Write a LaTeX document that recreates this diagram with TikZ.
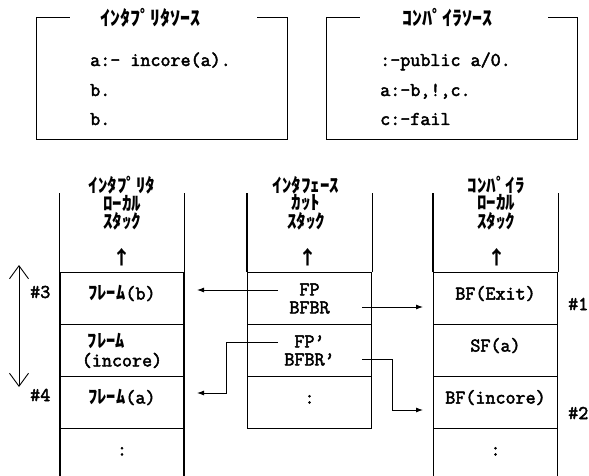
\documentclass[tikz,border=0pt]{standalone}
\usepackage{fontspec}
\usetikzlibrary{arrows.meta, positioning, calc}
\newfontfamily\kana{Noto Sans CJK JP}
\setmonofont{Latin Modern Mono}[FakeBold=2.5]
\newcommand{\kn}[1]{{\kana\bfseries\fontsize{18.5}{17}\selectfont #1}}

\begin{document}
\begin{tikzpicture}[x=1pt, y=-1pt,
      boxline/.style={line width=1.1pt},
      srcbox/.style={rectangle, minimum width=250pt, minimum height=121pt, inner sep=0pt},
      srctitle/.style={font=\fontsize{20}{22}\selectfont\kana\bfseries, inner sep=0pt},
      code/.style={anchor=base west, font=\fontsize{19.5}{22}\selectfont\ttfamily, inner sep=0pt},
      cell/.style={rectangle, draw, line width=1.1pt, minimum width=124pt, minimum height=52pt, inner sep=0pt, anchor=north, align=center, font=\fontsize{19.5}{18}\selectfont\ttfamily},
      oneline/.style={text height=14pt, text depth=12pt},
      stackhead/.style={align=center, font=\fontsize{19}{15.5}\selectfont\kana\bfseries, inner sep=0pt},
      numtag/.style={anchor=west, font=\fontsize{19.5}{22}\selectfont\ttfamily, inner sep=0pt},
      ptr/.style={line width=0.9pt, -{Latex[length=7pt, width=5pt]}}
    ]
      \useasboundingbox (0,0) rectangle (589,476);

      % Source boxes
      \node[srcbox] (isrc) at (162,78.5) {};
      \draw[boxline] ([xshift=33pt]isrc.north west) -- (isrc.north west) -- (isrc.south west)
        -- (isrc.south east) -- (isrc.north east) -- ([xshift=-30pt]isrc.north east);
      \node[srctitle] (ititle) at (150,18) {ｲﾝﾀﾌﾟﾘﾀｿｰｽ};
      \node[code] (isrc1) at (90,66) {a:- incore(a).};
      \node[code] (isrc2) at (90,96) {b.};
      \node[code] (isrc3) at (90,125) {b.};

      \node[srcbox] (csrc) at (452,78.5) {};
      \draw[boxline] ([xshift=33pt]csrc.north west) -- (csrc.north west) -- (csrc.south west)
        -- (csrc.south east) -- (csrc.north east) -- ([xshift=-29pt]csrc.north east);
      \node[srctitle] (ctitle) at (447,18) {ｺﾝﾊﾟｲﾗｿｰｽ};
      \node[code] (csrc1) at (380,66) {:-public a/0.};
      \node[code] (csrc2) at (380,96) {a:-b,!,c.};
      \node[code] (csrc3) at (380,125) {c:-fail};

      % Interpreter local stack
      \node[cell, oneline] (Lb) at (122,272) {\kn{ﾌﾚｰﾑ}(b)};
      \node[cell, align=left, font=\fontsize{19.5}{19}\selectfont\ttfamily, below=-\pgflinewidth of Lb] (Linc) {\hspace*{6pt}\kn{ﾌﾚｰﾑ}\\(incore)};
      \node[cell, oneline, below=-\pgflinewidth of Linc] (La) {\kn{ﾌﾚｰﾑ}(a)};
      \node[cell, oneline, below=-\pgflinewidth of La] (Ldots) {:};
      \draw[boxline] (Lb.north west) -- ++(0,-79);
      \draw[boxline] (Lb.north east) -- ++(0,-79);
      \node[stackhead] (Lhead) at (122,203) {ｲﾝﾀﾌﾟﾘﾀ\\ﾛｰｶﾙ\\ｽﾀｯｸ};
      \node[stackhead] (Lup) at (122,257) {↑};

      % Interface cut stack
      \node[cell] (M1) at (309.5,272) {FP\\BFBR};
      \node[cell, below=-\pgflinewidth of M1] (M2) {FP’\\BFBR’};
      \node[cell, oneline, below=-\pgflinewidth of M2] (M3) {:};
      \draw[boxline] (M1.north west) -- ++(0,-79);
      \draw[boxline] (M1.north east) -- ++(0,-79);
      \node[stackhead] (Mhead) at (306,203) {ｲﾝﾀﾌｪｰｽ\\ｶｯﾄ\\ｽﾀｯｸ};
      \node[stackhead] (Mup) at (308,257) {↑};

      % Compiler local stack
      \node[cell, oneline] (R1) at (495.5,272) {BF(Exit)};
      \node[cell, oneline, below=-\pgflinewidth of R1] (R2) {SF(a)};
      \node[cell, oneline, below=-\pgflinewidth of R2] (R3) {BF(incore)};
      \node[cell, oneline, below=-\pgflinewidth of R3] (R4) {:};
      \draw[boxline] (R1.north west) -- ++(0,-79);
      \draw[boxline] (R1.north east) -- ++(0,-79);
      \node[stackhead] (Rhead) at (496,203) {ｺﾝﾊﾟｲﾗ\\ﾛｰｶﾙ\\ｽﾀｯｸ};
      \node[stackhead] (Rup) at (497,257) {↑};

      % Frame numbers
      \node[numtag] (t1) at (568,304) {\#1};
      \node[numtag] (t2) at (568,413) {\#2};
      \node[numtag] (t3) at (30,292) {\#3};
      \node[numtag] (t4) at (30,395) {\#4};
      \coordinate (spanTop) at (19,265);
      \coordinate (spanBot) at (19,387);
      \draw[line width=0.9pt, {Straight Barb[length=13pt, width=19pt]}-{Straight Barb[length=13pt, width=19pt]}] (spanTop) -- (spanBot);

      % Pointers
      \coordinate (fpOut) at (278,290);
      \coordinate (bfbrOut) at (362,307);
      \coordinate (fpdOut) at (278,342);
      \coordinate (bfbrdOut) at (362,359);
      \coordinate (bIn) at (197,290);
      \coordinate (aIn) at (197,393);
      \coordinate (exitIn) at (423,307);
      \coordinate (incIn) at (423,410);
      \draw[ptr] (fpOut) -- (bIn);
      \draw[ptr] (bfbrOut) -- (exitIn);
      \draw[ptr] (fpdOut) -| ($(aIn)+(29,0)$) -- (aIn);
      \draw[ptr] (bfbrdOut) -| ($(incIn)+(-31,0)$) -- (incIn);
    \end{tikzpicture}
\end{document}
